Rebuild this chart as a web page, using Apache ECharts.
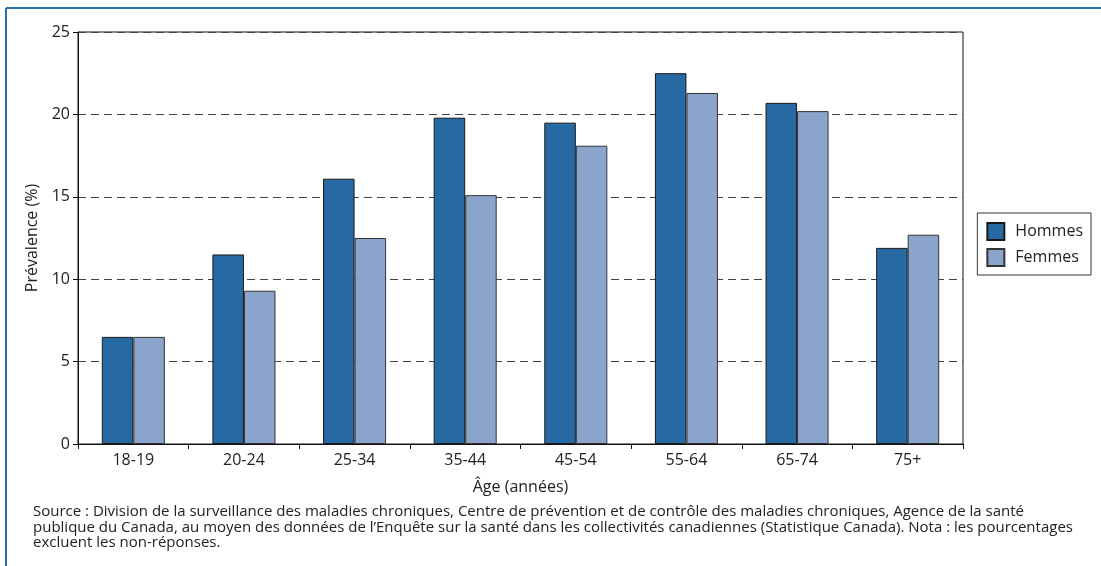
<!DOCTYPE html>
<html>
<head>
<meta charset="utf-8">
<script src="https://cdn.jsdelivr.net/npm/echarts@6/dist/echarts.min.js"></script>
<style>
html,body{margin:0;padding:0;background:#fff;}
#c{width:1101px;height:566px;}
</style>
</head>
<body>
<div id="c"></div>
<script>
const categories = ['18-19','20-24','25-34','35-44','45-54','55-64','65-74','75+'];
const hommes = [6.5, 11.5, 16.1, 19.8, 19.5, 22.5, 20.7, 11.9];
const femmes = [6.5, 9.3, 12.5, 15.1, 18.1, 21.3, 20.2, 12.7];
const yTicks = [0, 5, 10, 15, 20, 25];
const sourceLines = [
  'Source : Division de la surveillance des maladies chroniques, Centre de prévention et de contrôle des maladies chroniques, Agence de la santé',
  'publique du Canada, au moyen des données de l\u2019Enquête sur la santé dans les collectivités canadiennes (Statistique Canada). Nota : les pourcentages',
  'excluent les non-réponses.'
];

const FONT = 'Open Sans';
const chart = echarts.init(document.getElementById('c'), null, {renderer:'canvas'});
chart.setOption({
  animation: false,
  backgroundColor: '#fff',
  textStyle: {fontFamily: FONT},
  grid: {left: 78, right: 138, top: 32, bottom: 122, show: true, borderColor: '#111', borderWidth: 1, backgroundColor: 'transparent'},
  legend: {
    orient: 'vertical', right: 10, top: 213,
    data: ['Hommes','Femmes'],
    icon: 'rect',
    itemWidth: 17, itemHeight: 17, itemGap: 7,
    borderColor: '#333', borderWidth: 1, padding: [9, 8, 8, 9],
    textStyle: {fontFamily: FONT, fontSize: 16, color: '#222', padding: [0, 0, 0, 6]}
  },
  xAxis: {
    type: 'category', data: categories,
    axisLine: {lineStyle: {color: '#111'}},
    axisTick: {show: true, length: 5, lineStyle: {color: '#111'}},
    axisLabel: {fontFamily: FONT, fontSize: 16, color: '#222', margin: 8},
    name: 'Âge (années)', nameLocation: 'middle', nameGap: 35,
    nameTextStyle: {fontFamily: FONT, fontSize: 16, color: '#222'}
  },
  yAxis: {
    type: 'value', min: yTicks[0], max: yTicks[yTicks.length-1], interval: 5,
    axisLine: {show: true, lineStyle: {color: '#111'}},
    axisTick: {show: true, length: 5, lineStyle: {color: '#111'}},
    axisLabel: {fontFamily: FONT, fontSize: 16, color: '#222', margin: 8},
    splitLine: {show: true, lineStyle: {color: '#444', type: [8, 5], width: 1}},
    name: 'Prévalence (%)', nameLocation: 'middle', nameGap: 33,
    nameTextStyle: {fontFamily: FONT, fontSize: 16, color: '#222'}
  },
  series: [
    {name: 'Hommes', type: 'bar', data: hommes, barGap: '0%', barCategoryGap: '43%',
     itemStyle: {color: '#2769a3', borderColor: '#1a1a1a', borderWidth: 1}},
    {name: 'Femmes', type: 'bar', data: femmes,
     itemStyle: {color: '#8ba4cb', borderColor: '#333', borderWidth: 1}}
  ],
  graphic: [
    {type: 'line', shape: {x1: 6, y1: 8, x2: 1101, y2: 8}, style: {stroke: '#2c6fad', lineWidth: 2}},
    {type: 'line', shape: {x1: 6, y1: 8, x2: 6, y2: 566}, style: {stroke: '#2c6fad', lineWidth: 2}},
    {type: 'text', left: 33, top: 504,
     style: {text: sourceLines.join('\n'), fontFamily: FONT, fontSize: 15, lineHeight: 15.5, fill: '#222'}}
  ]
});
</script>
</body>
</html>
